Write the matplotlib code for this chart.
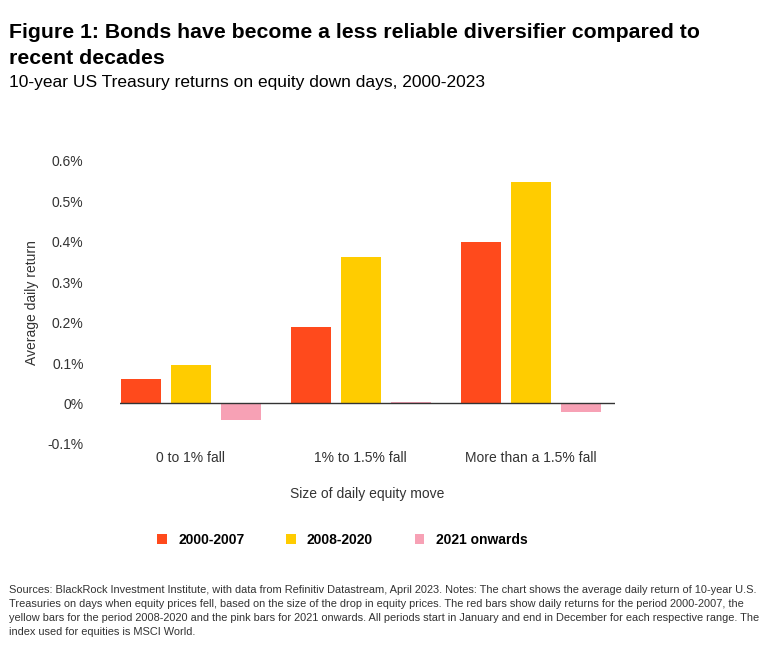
import matplotlib
matplotlib.use("Agg")
import matplotlib.pyplot as plt
import numpy as np

categories = ["0 to 1% fall", "1% to 1.5% fall", "More than a 1.5% fall"]
series = ["2000-2007", "2008-2020", "2021 onwards"]
v2000 = [0.06, 0.19, 0.40]
v2008 = [0.096, 0.362, 0.548]
v2021 = [-0.042, 0.003, -0.022]
yticks = [-0.1, 0, 0.1, 0.2, 0.3, 0.4, 0.5, 0.6]
ylabels = ["-0.1%", "0%", "0.1%", "0.2%", "0.3%", "0.4%", "0.5%", "0.6%"]
colors = ["#FF4A1C", "#FFCC00", "#F7A1B5"]

plt.rcParams['font.family'] = ['Liberation Sans', 'DejaVu Sans']
fig = plt.figure(figsize=(7.72, 6.49), dpi=100)
ax = fig.add_axes([0.155, 0.316, 0.641, 0.436])

x = np.arange(len(categories)) * 3.4
w = 0.8
for i, (vals, c, lab) in enumerate(zip([v2000, v2008, v2021], colors, series)):
    ax.bar(x + (i - 1) * 1.0, vals, w, color=c, label=lab)
ax.set_xlim(x[0] - 1.42, x[-1] + 1.68)
ax.set_ylim(-0.1, 0.6)
ax.set_yticks(yticks)
ax.set_yticklabels(ylabels, fontsize=10, color="#333333")
ax.set_xticks(x)
ax.set_xticklabels(categories, fontsize=10, color="#333333")
ax.tick_params(length=0, axis='y', pad=26)
ax.tick_params(length=0, axis='x', pad=5)
for s in ax.spines.values():
    s.set_visible(False)
ax.axhline(0, color="#333333", lw=1)
ax.set_ylabel("Average daily return", fontsize=10, color="#333333", labelpad=6)
ax.set_xlabel("Size of daily equity move", fontsize=10, color="#333333", labelpad=16)
ax.legend(loc="upper center", bbox_to_anchor=(0.45, -0.27), ncol=3, frameon=False,
          handlelength=0.7, handleheight=0.7, columnspacing=3,
          prop={'weight': 'bold', 'size': 10})

fig.text(0.012, 0.965, "Figure 1: Bonds have become a less reliable diversifier compared to",
         fontsize=15.3, fontweight="bold", va="top")
fig.text(0.012, 0.925, "recent decades", fontsize=15.3, fontweight="bold", va="top")
fig.text(0.012, 0.885, "10-year US Treasury returns on equity down days, 2000-2023", fontsize=12.5, va="top")
foot = ("Sources: BlackRock Investment Institute, with data from Refinitiv Datastream, April 2023. Notes: The chart shows the average daily return of 10-year U.S.\n"
        "Treasuries on days when equity prices fell, based on the size of the drop in equity prices. The red bars show daily returns for the period 2000-2007, the\n"
        "yellow bars for the period 2008-2020 and the pink bars for 2021 onwards. All periods start in January and end in December for each respective range. The\n"
        "index used for equities is MSCI World.")
fig.text(0.012, 0.098, foot, fontsize=7.9, va="top", color="#333333", linespacing=1.5)
fig.savefig("out.png", dpi=100)
